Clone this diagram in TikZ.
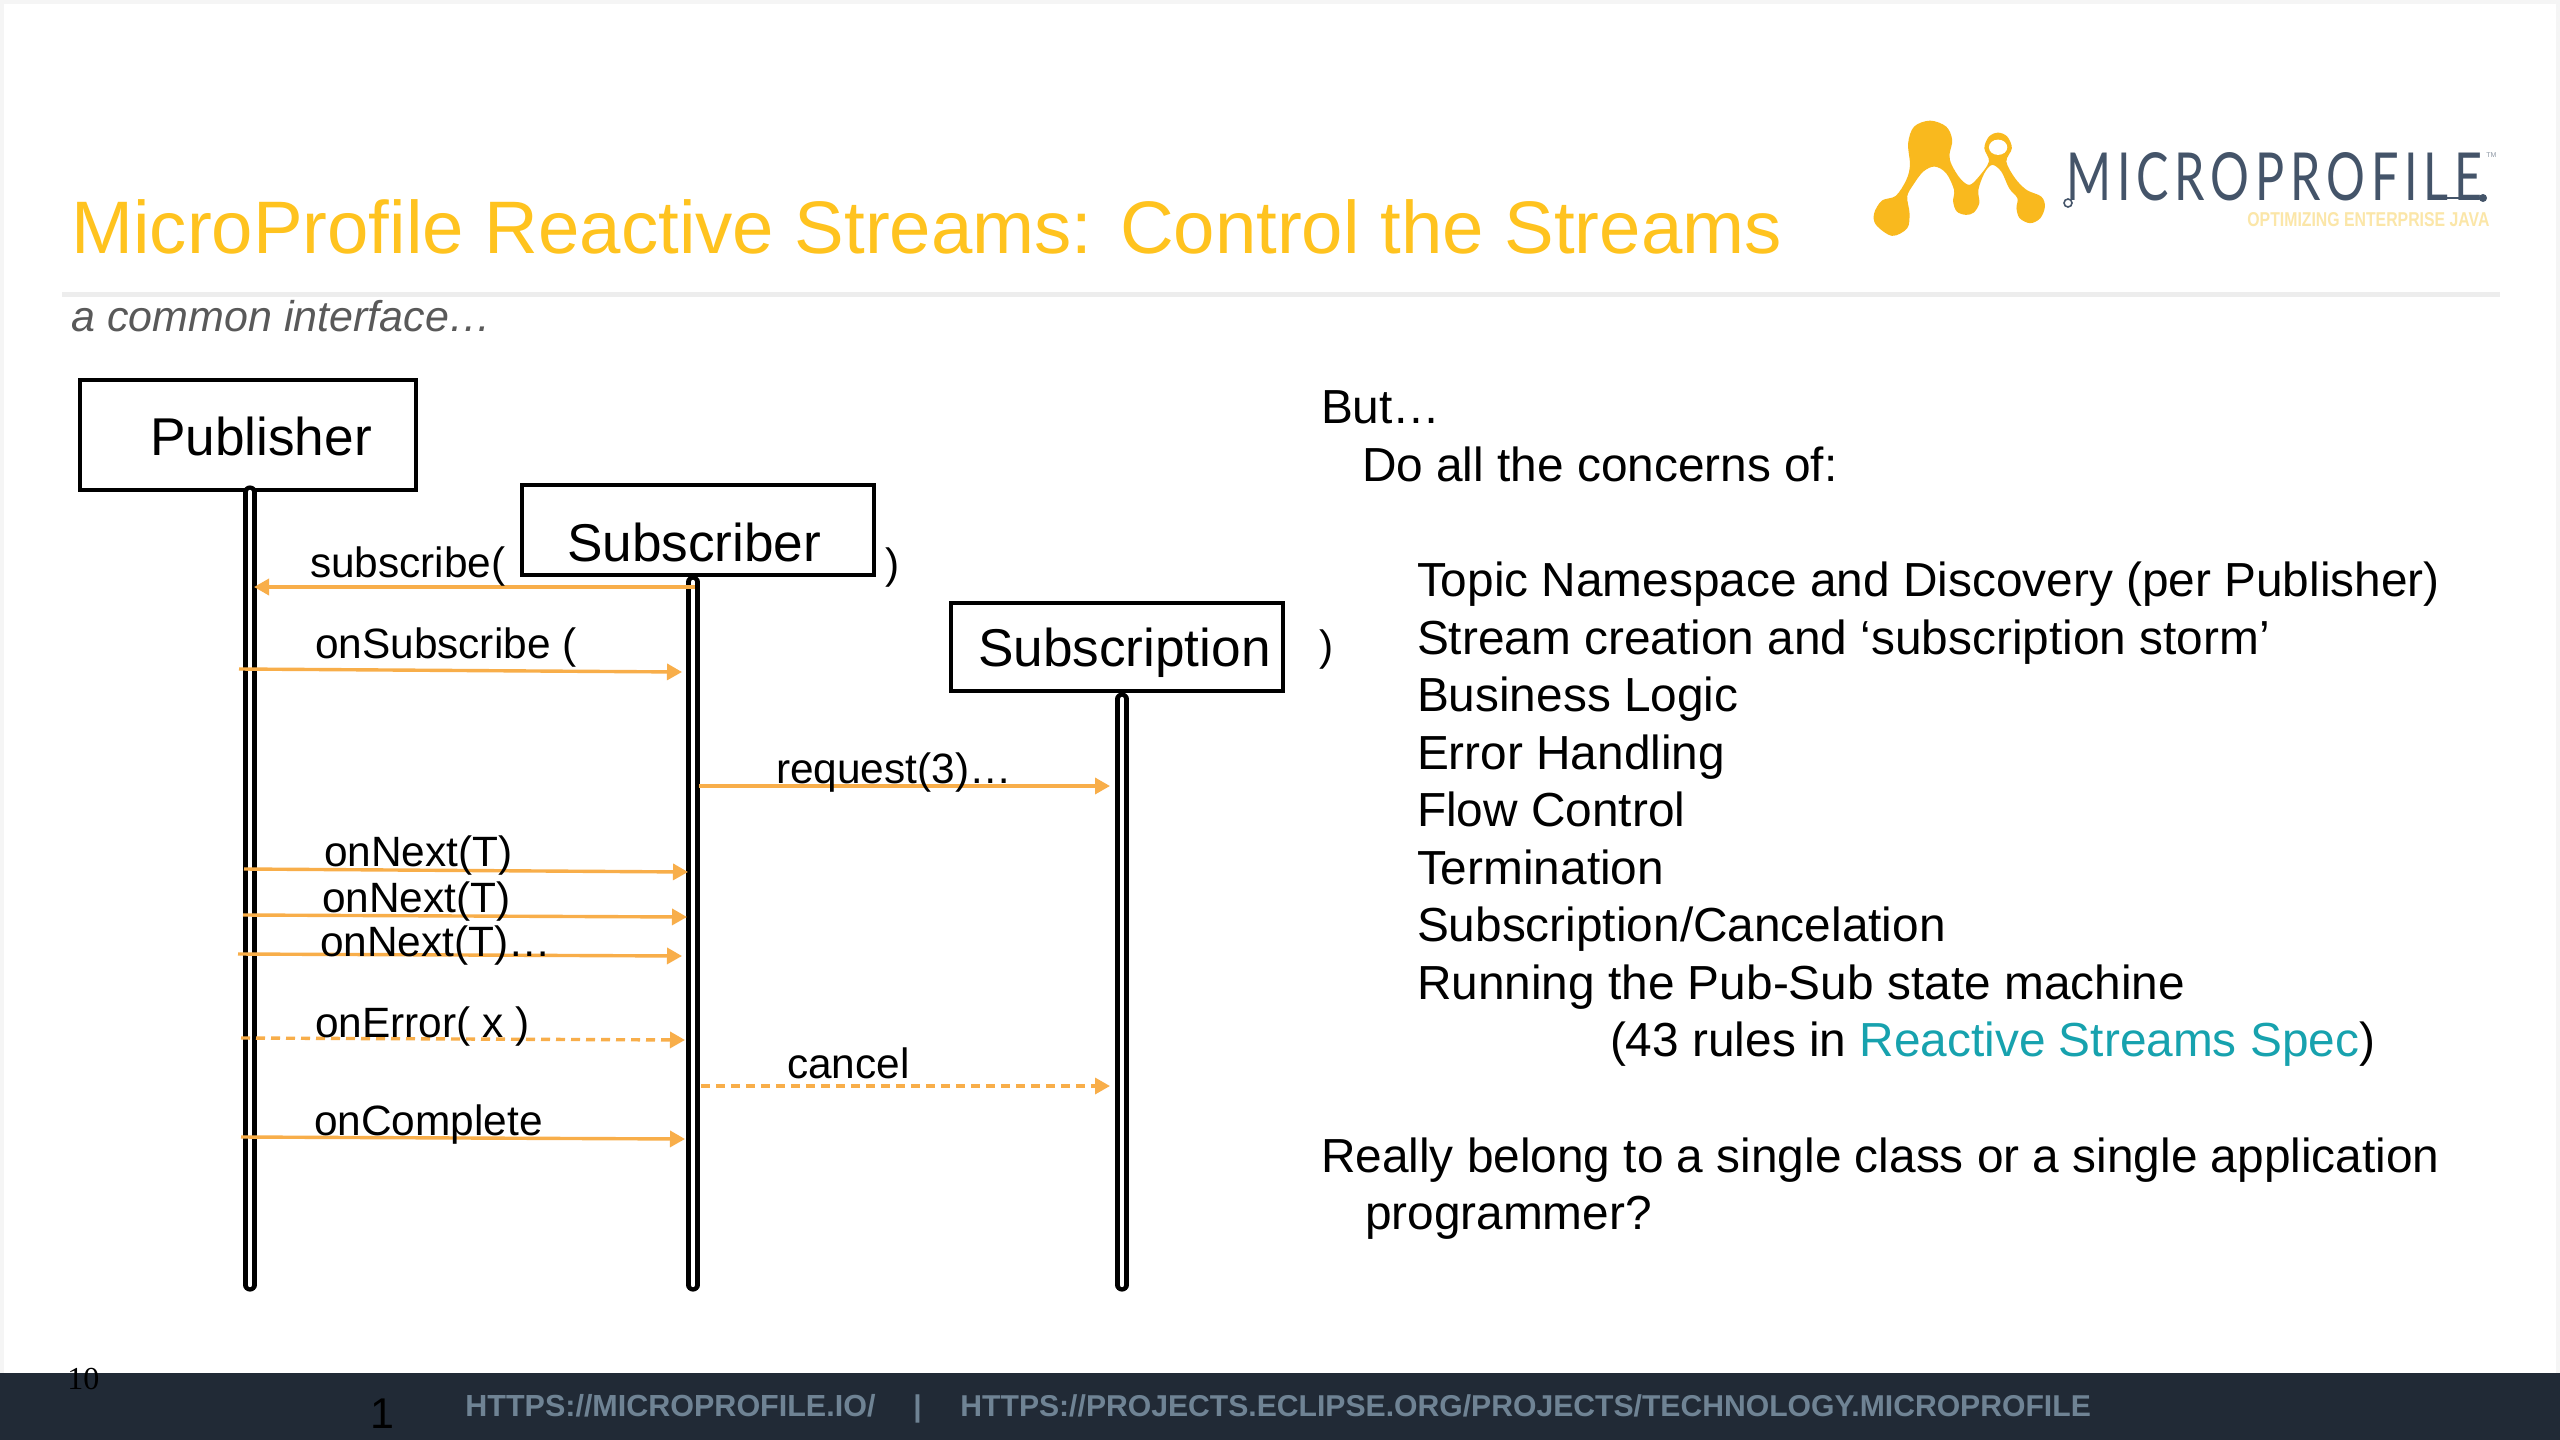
\documentclass[tikz,border=0pt]{standalone}
\usepackage{fontspec}
\usepackage{graphicx}
\setmainfont{Liberation Sans}
\newfontfamily\logofont{Lato}
\usetikzlibrary{arrows.meta}
\definecolor{titleyellow}{HTML}{FFC31F}
\definecolor{footerbg}{HTML}{212A36}
\definecolor{footertxt}{HTML}{6F8394}
\definecolor{arrowor}{HTML}{F8AE4A}
\definecolor{logoyellow}{HTML}{F9B91E}
\definecolor{logoblue}{HTML}{445469}
\definecolor{logopale}{HTML}{FBE6A8}
\definecolor{linkteal}{HTML}{17A2AE}
\definecolor{subgrey}{HTML}{595959}
\definecolor{rulegrey}{HTML}{EDEDED}
\definecolor{edgegrey}{HTML}{F5F5F5}
\newcommand{\fs}[1]{\fontsize{#1}{#1}\selectfont}
\tikzset{
  x=0.5pt,y=-0.5pt,
  lbl/.style={anchor=base west,inner sep=0,outer sep=0,font=\fs{21.2}},
  boxlbl/.style={anchor=base west,inner sep=0,outer sep=0,font=\fs{26.6}},
  body/.style={anchor=base west,inner sep=0,outer sep=0,font=\fs{23.9}},
  actor/.style={draw=black,line width=2.2pt,fill=white,inner sep=0,outer sep=0,anchor=north west},
  life/.style={draw=black,line width=2.2pt,double=white,double distance=2.2pt,line cap=round},
  msg/.style={draw=arrowor,line width=1.7pt,-{Triangle[length=7.5pt,width=8pt]}},
  dmsg/.style={msg,dash pattern=on 4.5pt off 3pt},
}
\begin{document}
\begin{tikzpicture}
\useasboundingbox (0,0) rectangle (2560,1440);
\fill[white] (0,0) rectangle (2560,1440);
\fill[edgegrey] (0,0) rectangle (2560,4);
\fill[edgegrey] (0,0) rectangle (4,1373);
\fill[edgegrey] (2556,0) rectangle (2560,1373);
% header
\node[anchor=base west,inner sep=0,text=titleyellow,font=\fs{37.2}] (title) at (71,253) {MicroProfile Reactive Streams: Control the Streams};
\fill[rulegrey] (62,292) rectangle (2500,297);
\node[anchor=base west,inner sep=0,text=subgrey,font=\fs{21.5}\itshape] (sub) at (71,331) {a common interface…};
% logo
\begin{scope}[shift={(1820,90)},xscale=0.459,yscale=0.333]
\fill[logoyellow] plot[smooth cycle,tension=0.55] coordinates {
 (157,438) (122,405) (118,370) (135,332) (165,318) (188,270) (196,225) (192,160) (205,110) (240,92)
 (275,110) (288,150) (282,195) (287,225) (305,265) (325,285) (345,262) (368,215) (358,175) (368,140) (388,128)
 (408,140) (418,175) (406,215) (425,265) (450,300) (482,320) (490,350) (480,385) (458,400) (435,385) (428,355) (430,325)
 (412,295) (395,245) (375,225) (358,250) (345,300) (347,340) (335,368) (318,375) (298,365) (290,335) (292,300)
 (275,250) (250,230) (225,245) (203,285) (190,320) (195,370) (190,415)};
\fill[white] (388,172) ellipse (20 and 23);
\end{scope}
\node[inner sep=0,anchor=north west,text=logoblue] (logotext) at (2066,152) {\resizebox{208pt}{24pt}{\logofont\addfontfeature{LetterSpace=12}MICROPROFILE}};
\draw[logoblue,line width=0.8pt] (2068,203) circle (4);
\fill[logoblue] (2483,198) circle (4);
\draw[logoblue,line width=1pt] (2440,198) -- (2483,198);
\node[inner sep=0,anchor=north west,text=logopale] (tag) at (2247,212) {\resizebox{121pt}{7pt}{\bfseries OPTIMIZING ENTERPRISE JAVA}};
\node[inner sep=0,anchor=west,text=logoblue!60,font=\fs{3.5}] (tm) at (2486,155) {TM};
% actors
\node[actor,minimum width=168pt,minimum height=55pt] (pubbox) at (80,380) {};
\node[actor,minimum width=176pt,minimum height=45pt] (subbox) at (522,485) {};
\node[actor,minimum width=166pt,minimum height=44pt] (scnbox) at (951,603) {};
\node[boxlbl] (publbl) at (150,455) {Publisher};
\node[boxlbl] (sublbl) at (567,561) {Subscriber};
\node[boxlbl] (scnlbl) at (978,666) {Subscription};
% lifelines
\coordinate (pubtop) at (250,492); \coordinate (pubend) at (250,1285);
\coordinate (subtop) at (693,582); \coordinate (subend) at (693,1285);
\coordinate (scntop) at (1122,699); \coordinate (scnend) at (1122,1285);
\draw[life] (pubtop) -- (pubend);
\draw[life] (subtop) -- (subend);
\draw[life] (scntop) -- (scnend);
% messages
\coordinate (a1) at (695,587); \coordinate (b1) at (254,587);
\coordinate (a2) at (239,669); \coordinate (b2) at (682,672);
\coordinate (a3) at (699,786); \coordinate (b3) at (1110,786);
\coordinate (a4) at (244,869); \coordinate (b4) at (688,872);
\coordinate (a5) at (243,915); \coordinate (b5) at (687,917);
\coordinate (a6) at (238,954); \coordinate (b6) at (682,956);
\coordinate (a7) at (241,1038); \coordinate (b7) at (685,1040);
\coordinate (a8) at (701,1086); \coordinate (b8) at (1110,1086);
\coordinate (a9) at (241,1137); \coordinate (b9) at (685,1139);
\draw[msg] (a1) -- (b1);
\draw[msg] (a2) -- (b2);
\draw[msg] (a3) -- (b3);
\draw[msg] (a4) -- (b4);
\draw[msg] (a5) -- (b5);
\draw[msg] (a6) -- (b6);
\draw[dmsg] (a7) -- (b7);
\draw[dmsg] (a8) -- (b8);
\draw[msg] (a9) -- (b9);
% message labels
\node[lbl] (l1) at (310,577) {subscribe(};
\node[lbl] (p1) at (885,578) {)};
\node[lbl] (l2) at (315,658) {onSubscribe (};
\node[lbl] (p2) at (1319,660) {)};
\node[lbl] (l3) at (776,783) {request(3)…};
\node[lbl] (l4) at (324,866) {onNext(T)};
\node[lbl] (l5) at (322,912) {onNext(T)};
\node[lbl] (l6) at (320,956) {onNext(T)…};
\node[lbl] (l7) at (315,1037) {onError( x )};
\node[lbl] (l8) at (787,1078) {cancel};
\node[lbl] (l9) at (314,1135) {onComplete};
% right text
\node[body] (r1) at (1321,423) {But…};
\node[body] (r2) at (1362,481) {Do all the concerns of:};
\node[body] (r3) at (1417,596) {Topic Namespace and Discovery (per Publisher)};
\node[body] (r4) at (1417,654) {Stream creation and ‘subscription storm’};
\node[body] (r5) at (1417,711) {Business Logic};
\node[body] (r6) at (1417,769) {Error Handling};
\node[body] (r7) at (1417,826) {Flow Control};
\node[body] (r8) at (1417,884) {Termination};
\node[body] (r9) at (1417,941) {Subscription/Cancelation};
\node[body] (r10) at (1417,999) {Running the Pub-Sub state machine};
\node[body] (r11) at (1610,1056) {(43 rules in \textcolor{linkteal}{Reactive Streams Spec})};
\node[body] (r12) at (1321,1172) {Really belong to a single class or a single application};
\node[body] (r13) at (1365,1229) {programmer?};
% footer
\fill[footerbg] (0,1373) rectangle (2560,1440);
\node[anchor=base west,inner sep=0,text=footertxt,font=\fs{15.25}\bfseries] (f1) at (465,1416) {HTTPS://MICROPROFILE.IO/};
\node[anchor=base west,inner sep=0,text=footertxt,font=\fs{15}\bfseries] (f2) at (913,1416) {|};
\node[anchor=base west,inner sep=0,text=footertxt,font=\fs{15.07}\bfseries] (f3) at (960,1416) {HTTPS://PROJECTS.ECLIPSE.ORG/PROJECTS/TECHNOLOGY.MICROPROFILE};
\node[anchor=base west,inner sep=0,text=black,font=\fontspec{Liberation Serif}\fs{16}] (n10) at (67,1389) {10};
\node[anchor=base west,inner sep=0,text=black,font=\fs{21.5}] (n1) at (370,1428) {1};
\end{tikzpicture}
\end{document}
